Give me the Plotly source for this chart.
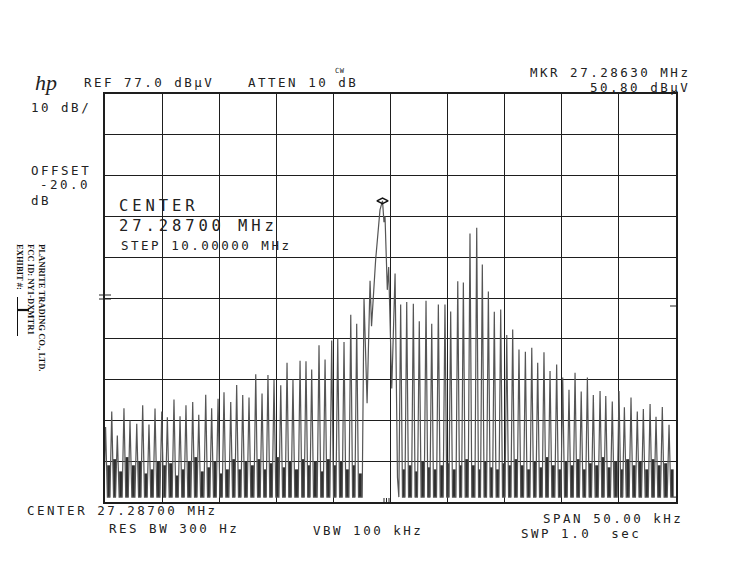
import plotly.graph_objects as go

# ---------------- data ----------------
CENTER_MHZ = 27.28700
SPAN_KHZ = 50.0
REF_DBUV = 77.0
DB_PER_DIV = 10.0
FLOOR_DBUV = -21.8

# lower sideband spikes: offset from centre (kHz) and peak level (dBuV)
left_khz = [-24.95, -24.41, -23.92, -23.34, -22.81, -22.22, -21.70, -21.15, -20.62, -20.03,
            -19.54, -18.96, -18.43, -17.91, -17.32, -16.79, -16.18, -15.66, -15.10, -14.58,
            -13.99, -13.47, -12.94, -12.39, -11.80, -11.25, -10.73, -10.20, -9.61, -9.06,
            -8.54, -7.92, -7.40, -6.90, -6.26, -5.73, -5.15, -4.62, -4.07, -3.48,
            -2.96, -2.32]
left_dbuv = [-4.6, -0.8, -6.7, 0.0, -3.0, -3.8, 0.7, -4.0, -0.1, -0.8,
             -2.2, 2.1, -2.0, 0.7, 1.5, -1.6, 3.3, 0.0, 2.3, 3.9,
             1.5, 5.7, 3.2, 2.6, 8.3, 3.6, 8.1, 6.9, 5.6, 11.1,
             7.0, 11.6, 11.5, 9.5, 15.4, 11.9, 16.6, 17.1, 16.2, 22.9,
             20.7, 26.9]
# noise bursts between lower sideband spikes (top level, dBuV)
left_burst_dbuv = [-14.0, -12.5, -15.5, -12.0, -14.0, -13.0, -16.0, -15.0, -13.0, -14.0,
                   -13.5, -16.5, -15.0, -13.0, -12.0, -15.5, -14.5, -13.0, -16.0, -15.0,
                   -12.5, -15.0, -13.0, -14.0, -12.5, -15.0, -13.5, -12.0, -14.5, -13.0,
                   -15.0, -12.5, -14.0, -13.0, -15.5, -12.5, -14.0, -13.0, -15.0, -14.0,
                   -16.0]

# carrier region trace
carrier_khz = [-2.05, -1.79, -1.66, -1.30, -1.16, -0.92, -0.70, -0.57, -0.48, -0.28,
               -0.16, 0.11, 0.40, 0.61]
carrier_dbuv = [1.2, 31.2, 20.1, 36.4, 41.4, 48.6, 50.8, 45.6, 47.0, 29.0,
                34.6, 4.8, 33.0, -17.0]

# upper sideband spikes
right_khz = [0.89, 1.42, 2.00, 2.52, 3.11, 3.61, 4.19, 4.77, 5.27, 5.89,
             6.38, 6.96, 7.55, 8.04, 8.57, 9.09, 9.65, 10.18, 10.70, 11.25,
             11.81, 12.37, 12.89, 13.44, 13.97, 14.55, 15.08, 15.63, 16.16, 16.70,
             17.24, 17.76, 18.35, 18.85, 19.42, 20.01, 20.48, 21.06, 21.61, 22.14,
             22.73, 23.25, 23.80, 24.39]
right_dbuv = [25.4, 26.0, 25.6, 21.3, 26.3, 20.7, 25.4, 25.4, 23.7, 31.1,
              30.8, 42.8, 44.2, 35.2, 28.6, 23.6, 24.2, 17.9, 19.3, 14.4,
              13.8, 14.8, 11.1, 13.7, 9.1, 10.7, 7.5, 4.5, 8.7, 4.1,
              7.5, 3.2, 4.2, 3.0, 1.6, 4.2, 0.2, 2.6, -0.8, -0.2,
              1.0, -2.1, 0.3, -4.1]
right_burst_dbuv = [-15.0, -14.0, -15.5, -13.0, -14.5, -15.0, -14.0, -13.5, -15.0, -14.0,
                    -12.5, -14.0, -15.0, -13.0, -14.5, -15.0, -13.5, -14.0, -12.5, -14.0,
                    -15.0, -13.0, -14.5, -12.0, -14.0, -15.0, -13.0, -14.0, -12.5, -15.0,
                    -13.5, -14.0, -12.0, -14.5, -13.0, -15.0, -12.5, -14.0, -13.0, -15.0,
                    -12.5, -14.0, -13.5, -15.0]

marker_khz = -0.70
marker_dbuv = 50.80

# ---------------- build trace ----------------
half = 0.16
xs, ys = [], []
for i, (x, l) in enumerate(zip(left_khz, left_dbuv)):
    xs += [x - half, x]
    ys += [FLOOR_DBUV, l]
    if i < len(left_khz) - 1:
        xs.append(x + half)
        ys.append(FLOOR_DBUV)
xs += carrier_khz
ys += carrier_dbuv
for x, l in zip(right_khz, right_dbuv):
    xs += [x - half, x, x + half]
    ys += [FLOOR_DBUV, l, FLOOR_DBUV]
xs.append(SPAN_KHZ / 2)
ys.append(FLOOR_DBUV)

bx, by = [], []
for i, top in enumerate(left_burst_dbuv):
    m = (left_khz[i] + left_khz[i + 1]) / 2
    bx += [m, m, None]
    by += [FLOOR_DBUV, top, None]
for i, top in enumerate(right_burst_dbuv):
    if i < len(right_khz) - 1:
        m = (right_khz[i] + right_khz[i + 1]) / 2
    else:
        m = right_khz[i] + 0.27
    bx += [m, m, None]
    by += [FLOOR_DBUV, top, None]

fig = go.Figure()
fig.add_trace(go.Scatter(x=bx, y=by, mode="lines",
                         line=dict(color="#2e2e2e", width=3), hoverinfo="skip"))
fig.add_trace(go.Scatter(x=xs, y=ys, mode="lines",
                         line=dict(color="#555555", width=1.2), hoverinfo="skip"))
fig.add_trace(go.Scatter(x=[marker_khz], y=[marker_dbuv], mode="markers",
                         marker=dict(symbol="diamond-wide-open", size=8, color="#111",
                                     line=dict(width=1.5, color="#111"))))

L, R, T, B = 105, 676, 94, 502
W, H = 733, 582
fig.update_layout(
    width=W, height=H, showlegend=False,
    margin=dict(l=L, r=W - R, t=T, b=H - B, pad=0),
    paper_bgcolor="white", plot_bgcolor="white",
)
fig.update_xaxes(range=[-SPAN_KHZ / 2, SPAN_KHZ / 2], tick0=-25, dtick=5,
                 showgrid=True, gridcolor="#1e1e1e", gridwidth=1.2,
                 showticklabels=False, ticks="", zeroline=False,
                 showline=True, linecolor="#1e1e1e", linewidth=1.5, mirror=True)
fig.update_yaxes(range=[REF_DBUV - 10 * DB_PER_DIV, REF_DBUV], tick0=REF_DBUV, dtick=DB_PER_DIV,
                 showgrid=True, gridcolor="#1e1e1e", gridwidth=1.2,
                 showticklabels=False, ticks="", zeroline=False,
                 showline=True, linecolor="#1e1e1e", linewidth=1.5, mirror=True)


def px2paper(px, py):
    return (px - L) / (R - L), (B - py) / (B - T)


ann = []


def label(px, py, text, size=12.5, ls=2.5, anchor="left", family="DejaVu Sans Mono", color="#222"):
    x, y = px2paper(px, py)
    ann.append(dict(x=x, y=y, xref="paper", yref="paper", showarrow=False,
                    xanchor=anchor, yanchor="middle",
                    text=f'<span style="letter-spacing:{ls}px">{text}</span>',
                    font=dict(family=family, size=size, color=color)))


label(82, 82, "REF 77.0 dBµV")
label(246, 82, "ATTEN 10 dB")
label(333, 71, "CW", size=7, ls=0.5)
label(692, 73, "MKR 27.28630 MHz", anchor="right")
label(692, 87, "50.80 dBµV", anchor="right")
label(29, 107, "10 dB/")
label(29, 170, "OFFSET")
label(38, 184, "-20.0")
label(29, 200, "dB")
label(117, 206, "CENTER", size=15.5, ls=3.9)
label(117, 226, "27.28700 MHz", size=15.5, ls=3.9)
label(119, 245, "STEP 10.00000 MHz")
label(25, 511, "CENTER 27.28700 MHz")
label(541, 518, "SPAN 50.00 kHz")
label(107, 528, "RES BW 300 Hz")
label(311, 530, "VBW 100 kHz")
label(519, 533, "SWP 1.0\u00a0\u00a0sec")

# hp logo
x, y = px2paper(46, 82)
ann.append(dict(x=x, y=y, xref="paper", yref="paper", showarrow=False,
                xanchor="center", yanchor="middle", text="<i>hp</i>",
                font=dict(family="Liberation Serif", size=22, color="#222")))

# rotated exhibit stamp
x, y = px2paper(31, 308)
ann.append(dict(x=x, y=y, xref="paper", yref="paper", showarrow=False,
                xanchor="center", yanchor="middle", textangle=90, align="left",
                text="<b>PLANRITE TRADING CO., LTD.<br>FCC ID: NY1-DXMTR1<br>EXHIBIT #:</b>"
                     + "\u00a0" * 24,
                font=dict(family="Liberation Serif", size=8.6, color="#111")))
fig.update_layout(annotations=ann)

shapes = []


def seg(x0, y0, x1, y1, w=1, c="#222"):
    a0, b0 = px2paper(x0, y0)
    a1, b1 = px2paper(x1, y1)
    shapes.append(dict(type="line", xref="paper", yref="paper", x0=a0, y0=b0, x1=a1, y1=b1,
                       line=dict(color=c, width=w)))


seg(17.5, 297, 17.5, 336, 1, "#111")
seg(18, 310, 29, 310, 2.2, "#111")
seg(99, 295, 111, 295, 1)
seg(99, 299, 111, 299, 1)
seg(670, 306, 676, 306, 1)
seg(384, 498, 384, 502, 1)
seg(386.5, 498, 386.5, 502, 1)
seg(389, 498, 389, 502, 1)
fig.update_layout(shapes=shapes)

fig.write_html("out.html", config={"displayModeBar": False},
               post_script="document.body.style.margin='0';")
